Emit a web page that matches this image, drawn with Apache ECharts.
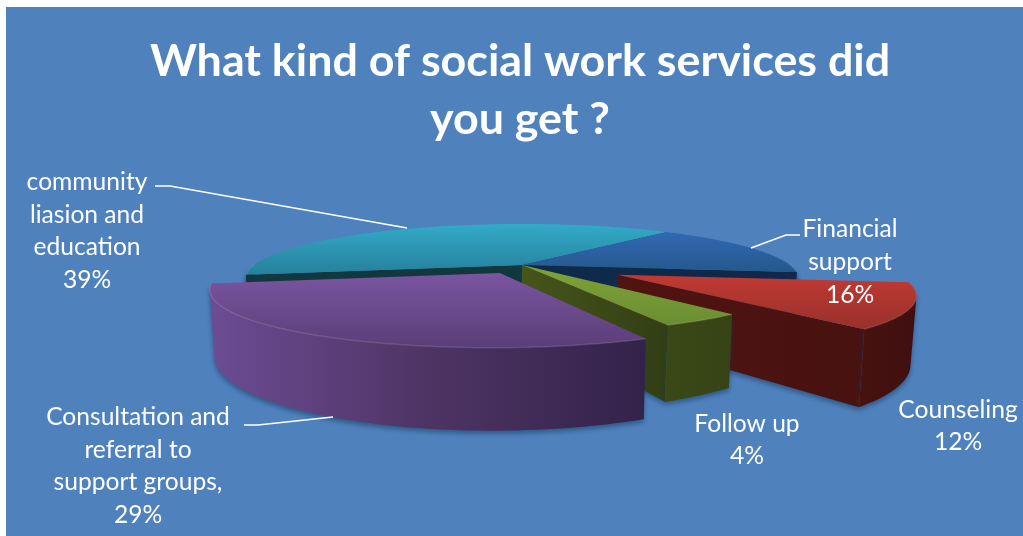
<!DOCTYPE html>
<html><head><meta charset="utf-8">
<style>html,body{margin:0;padding:0;background:#fff}#c{width:1023px;height:536px}</style>
<script src="https://cdn.jsdelivr.net/npm/echarts@6/dist/echarts.min.js"></script>
</head><body><div id="c"></div>
<script>
// ---- data ----
const chartTitle = 'What kind of social work services did\nyou get ?';
const categories = ['community\nliasion and\neducation', 'Financial\nsupport', 'Counseling', 'Follow up', 'Consultation and\nreferral to\nsupport groups,'];
const values = [39, 16, 12, 4, 29];

// ---- drawing style (not data) ----
const START_ANGLE = -169.6, CX = 522, CY = 265, RX = 268, RY = 51.25, K = 0.25, DEPTH = 60, TAPER = 0.985;
const explodeX = [0, 0, 0.34, 0, -0.08];
const explodeY = [0, 0, 0.18, 0, 0.15];
const looks = [
  {top:['#33aac9','#25809b'], wall:['#12383f','#12383f'], face:['#12383f','#12383f']},
  {top:['#3169b3','#24588c'], wall:['#10284a','#10284a'], face:['#0f2a4a','#10284a']},
  {top:['#c13a33','#98302c'], wall:['#471210','#3f0f0f'], face:['#501412','#471210']},
  {top:['#80a338','#6b8d32'], wall:['#3a4817','#364315'], face:['#46551a','#323e14']},
  {top:['#7a55a0','#5a3e78'], wall:['#6c4c94','#4e3464','#33224a'], face:['#33224a','#33224a']}
];
const labelBoxes = [[87,231],[850,262],[958,426],[747,440],[138,466]];
const leaders = [
  [[155,186],[170,186],[407,228]],
  [[800,235],[786,235],[751,248]],
  [[244,425],[258,425],[333,417]]
];

function grad(cols, horizontal) {
  const stops = cols.map((c,i)=>({offset: cols.length>1 ? i/(cols.length-1) : 0, color:c}));
  return horizontal ? new echarts.graphic.LinearGradient(0,0,1,0,stops)
                    : new echarts.graphic.LinearGradient(0,0,0,1,stops);
}
function project(x, y, bottom) {
  const p = 1/(1 - K*y);
  const sx = RX*x*p, sy = RY*y*p;
  return bottom ? [CX + sx*TAPER, CY + sy*TAPER + DEPTH*p] : [CX + sx, CY + sy];
}
function hull(points) {
  const s = points.slice().sort((a,b)=>a[0]-b[0]||a[1]-b[1]);
  const cross = (o,a,b)=>(a[0]-o[0])*(b[1]-o[1])-(a[1]-o[1])*(b[0]-o[0]);
  const lo=[], up=[];
  s.forEach(q=>{ while(lo.length>1 && cross(lo[lo.length-2],lo[lo.length-1],q)<=0) lo.pop(); lo.push(q); });
  s.slice().reverse().forEach(q=>{ while(up.length>1 && cross(up[up.length-2],up[up.length-1],q)<=0) up.pop(); up.push(q); });
  return lo.slice(0,-1).concat(up.slice(0,-1));
}
const total = values.reduce((a,b)=>a+b,0);
function sliceGeom(i) {
  let before = 0; for (let j=0;j<i;j++) before += values[j];
  // slices run clockwise; the first one begins at START_ANGLE
  const a0 = START_ANGLE - before/total*360;
  const a1 = a0 - values[i]/total*360;
  return {a0, a1, ox: explodeX[i], oy: explodeY[i]};
}
function renderSlice(params, api) {
  const i = params.dataIndex, g = sliceGeom(i), look = looks[i];
  const pt = (deg) => { const r = deg*Math.PI/180; return [g.ox+Math.cos(r), g.oy-Math.sin(r)]; };
  const apex = [g.ox, g.oy];
  const arc = []; const n = Math.max(6, Math.round((g.a0-g.a1)/1.5));
  for (let s=0;s<=n;s++) arc.push(g.a0 + (g.a1-g.a0)*s/n);
  const children = [];
  const shadow = {shadowBlur:5, shadowColor:'rgba(20,55,90,0.55)', shadowOffsetY:3};
  const face = (deg, normal) => {
    if (Math.sin(normal*Math.PI/180) >= 0) return;
    const e = pt(deg);
    children.push({type:'polygon', silent:true,
      shape:{points:[project(apex[0],apex[1]), project(e[0],e[1]), project(e[0],e[1],true), project(apex[0],apex[1],true)]},
      style:Object.assign({fill:grad(look.face,true)}, shadow)});
  };
  face(g.a0, g.a0+90);
  face(g.a1, g.a1-90);
  const front = arc.filter(d => Math.sin(d*Math.PI/180) <= 0.001);
  if (front.length > 1) {
    const upper = front.map(d => { const q = pt(d); return project(q[0],q[1]); });
    const lower = front.map(d => { const q = pt(d); return project(q[0],q[1],true); });
    children.push({type:'polygon', silent:true, shape:{points:hull(upper.concat(lower))},
      style:Object.assign({fill:grad(look.wall,true)}, shadow)});
  }
  const topPts = [project(apex[0],apex[1])].concat(arc.map(d => { const q = pt(d); return project(q[0],q[1]); }));
  children.push({type:'polygon', silent:true, shape:{points:topPts}, style:{fill:grad(look.top,false)}});
  if (front.length > 1) {
    children.push({type:'polyline', silent:true,
      shape:{points:front.map(d => { const q = pt(d); return project(q[0],q[1]); })},
      style:{fill:null, stroke:'rgba(255,255,255,0.12)', lineWidth:1.5}});
  }
  return {type:'group', children};
}

const labelFont = '24.6px Lato';
const labelEls = categories.map((c,i)=>({
  type:'text', z:20, silent:true,
  style:{text:c+'\n'+values[i]+'%', x:labelBoxes[i][0], y:labelBoxes[i][1], fill:'#fff', font:labelFont,
         align:'center', verticalAlign:'middle', lineHeight:32.7}
}));
const leaderEls = leaders.map(pts=>({type:'polyline', z:20, silent:true, shape:{points:pts},
  style:{fill:null, stroke:'#fff', lineWidth:1.6}}));

const chart = echarts.init(document.getElementById('c'), null, {renderer:'canvas'});
chart.setOption({
  animation:false,
  backgroundColor:'#ffffff',
  title:{text:chartTitle, left:515, top:28, textAlign:'center',
    textStyle:{color:'#fff', fontFamily:'Lato', fontWeight:'bold', fontSize:44.8, lineHeight:58}, z:20},
  graphic:[{type:'rect', z:-10, silent:true, shape:{x:6,y:7,width:1017,height:529}, style:{fill:'#4f81bd'}}].concat(leaderEls, labelEls),
  series:[{type:'custom', coordinateSystem:'none', silent:true, z:5, clip:false,
    data:values.map((v,i)=>({name:categories[i], value:[v,i]})), renderItem:renderSlice}]
});
</script></body></html>
